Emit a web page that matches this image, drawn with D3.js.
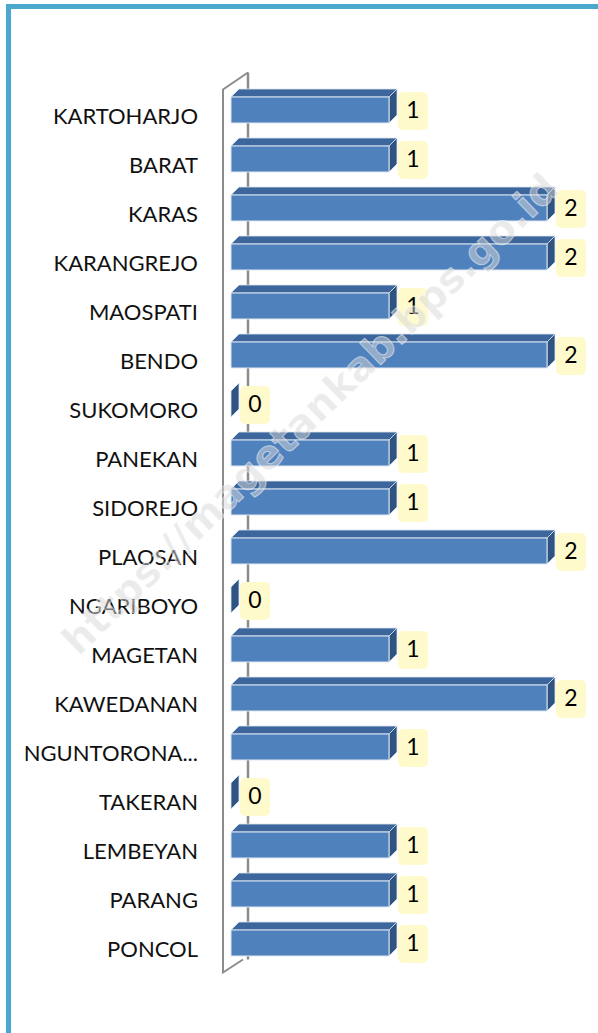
<!DOCTYPE html>
<html lang="en">
<head>
<meta charset="UTF-8" />
<title>Kecamatan</title>
<script src="https://d3js.org/d3.v7.min.js"></script>
<style>
  body { margin: 0; background: #fff; }
  svg { display: block; }
</style>
</head>
<body>
<svg id="chart" width="598" height="1033"></svg>
<script>
  const categories = ["KARTOHARJO", "BARAT", "KARAS", "KARANGREJO", "MAOSPATI", "BENDO",
    "SUKOMORO", "PANEKAN", "SIDOREJO", "PLAOSAN", "NGARIBOYO", "MAGETAN", "KAWEDANAN",
    "NGUNTORONA...", "TAKERAN", "LEMBEYAN", "PARANG", "PONCOL"];
  const values = [1, 1, 2, 2, 1, 2, 0, 1, 1, 2, 0, 1, 2, 1, 0, 1, 1, 1];
  const watermark = "https://magetankab.bps.go.id";

  const data = categories.map((c, i) => ({ name: c, value: values[i] }));
  const svg = d3.select("#chart");
  const font = "Lato, 'Open Sans', sans-serif";
  const depth = 8;

  // frame
  svg.append("path")
    .attr("d", "M8.5,1033 L8.5,6.5 L598,6.5")
    .attr("fill", "none")
    .attr("stroke", "#4aa8cc")
    .attr("stroke-width", 5);

  const x = d3.scaleLinear().domain([0, 2]).range([231, 547]);
  const y = d3.scaleBand()
    .domain(categories)
    .range([85.5, 967.5])
    .paddingInner(0.47)
    .paddingOuter(0.235);
  const bh = y.bandwidth();

  // 3D wall edges
  const wallTop = y.range()[0] + 4;
  const wallBot = y.range()[1] + 5;
  const wall = svg.append("g")
    .attr("fill", "none")
    .attr("stroke", "#8c8c8c")
    .attr("stroke-width", 2);
  wall.append("path")
    .attr("d", `M${x(0) + 17},${wallTop - 17} L${x(0) + 17},${wallBot - 13}`)
    .attr("stroke-width", 2.5);
  wall.append("path")
    .attr("d", `M${x(0) + 17},${wallTop - 17} L${x(0) - 8},${wallTop} L${x(0) - 8},${wallBot} L${x(0) + 12},${wallBot - 13}`);

  const bars = svg.append("g").selectAll("g")
    .data(data)
    .join("g");

  // top face
  bars.append("polygon")
    .attr("points", d => {
      const y0 = y(d.name), x0 = x(0), x1 = x(d.value);
      return [[x0, y0], [x0 + depth, y0 - depth], [x1 + depth, y0 - depth], [x1, y0]].join(" ");
    })
    .attr("fill", "#3d669c")
    .attr("stroke", "#dce6f2")
    .attr("stroke-width", 0.8);

  // side face
  bars.append("polygon")
    .attr("points", d => {
      const y0 = y(d.name), x1 = x(d.value);
      return [[x1, y0], [x1 + depth, y0 - depth], [x1 + depth, y0 + bh - depth], [x1, y0 + bh]].join(" ");
    })
    .attr("fill", "#2f5480")
    .attr("stroke", "#dce6f2")
    .attr("stroke-width", 0.8);

  // front face
  bars.filter(d => d.value > 0).append("rect")
    .attr("x", x(0))
    .attr("y", d => y(d.name))
    .attr("width", d => x(d.value) - x(0))
    .attr("height", bh)
    .attr("fill", "#4f81bd")
    .attr("stroke", "#dce6f2")
    .attr("stroke-width", 1);

  // data labels
  bars.append("rect")
    .attr("x", d => x(d.value) + depth + 1)
    .attr("y", d => y(d.name) - 5)
    .attr("width", 30)
    .attr("height", bh + 12)
    .attr("rx", 5)
    .attr("fill", "#fffacc");

  bars.append("text")
    .attr("x", d => x(d.value) + depth + 16)
    .attr("y", d => y(d.name) + bh / 2 + 2)
    .attr("text-anchor", "middle")
    .attr("dominant-baseline", "middle")
    .attr("font-family", font)
    .attr("font-size", 23)
    .attr("fill", "#000")
    .text(d => d.value);

  // category labels
  svg.append("g").selectAll("text")
    .data(categories)
    .join("text")
    .attr("x", 198)
    .attr("y", d => y(d) + bh / 2 + 8)
    .attr("text-anchor", "end")
    .attr("dominant-baseline", "middle")
    .attr("font-family", font)
    .attr("font-size", 22)
    .attr("fill", "#111")
    .text(d => d);

  // watermark on top
  svg.append("text")
    .attr("transform", "translate(312,416) rotate(-44)")
    .attr("text-anchor", "middle")
    .attr("dominant-baseline", "middle")
    .attr("font-family", "'DejaVu Sans', sans-serif")
    .attr("font-weight", "bold")
    .attr("font-size", 40)
    .attr("fill", "#d8d8d8")
    .attr("fill-opacity", 0.5)
    .attr("stroke", "#ffffff")
    .attr("stroke-opacity", 0.5)
    .attr("stroke-width", 1)
    .text(watermark);
</script>
</body>
</html>
